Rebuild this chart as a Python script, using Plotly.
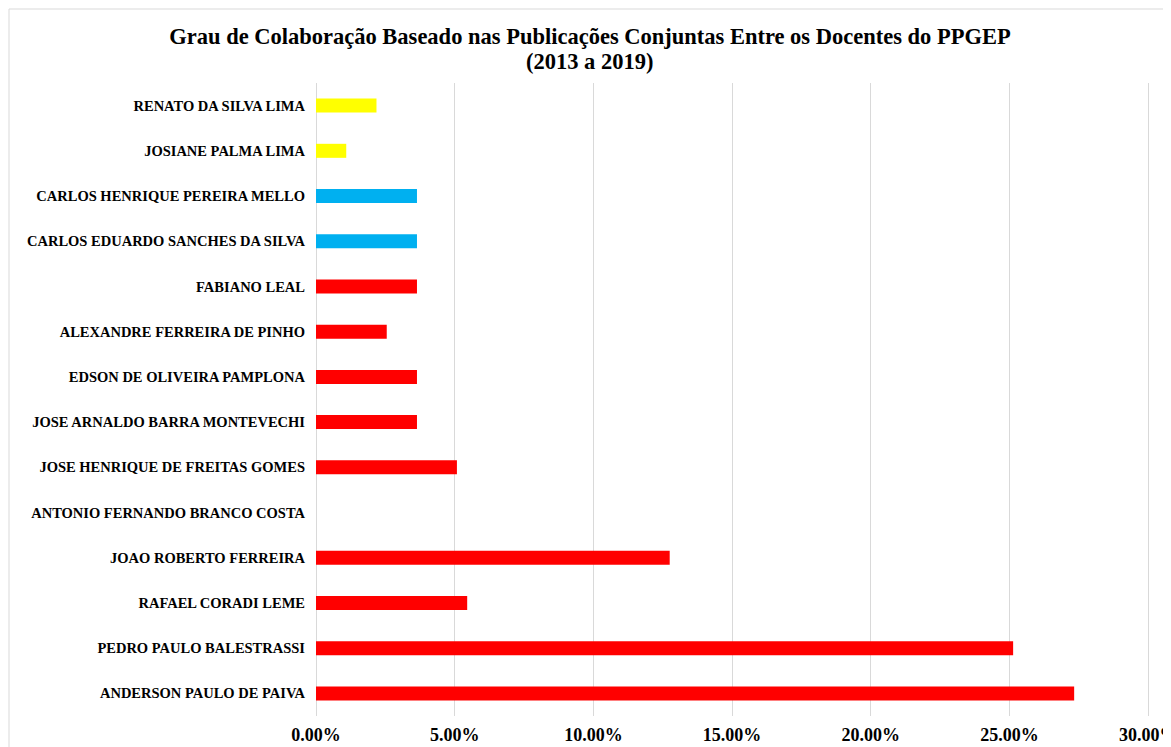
import plotly.graph_objects as go

names = [
    "ANDERSON PAULO DE PAIVA",
    "PEDRO PAULO BALESTRASSI",
    "RAFAEL CORADI LEME",
    "JOAO ROBERTO FERREIRA",
    "ANTONIO FERNANDO BRANCO COSTA",
    "JOSE HENRIQUE DE FREITAS GOMES",
    "JOSE ARNALDO BARRA MONTEVECHI",
    "EDSON DE OLIVEIRA PAMPLONA",
    "ALEXANDRE FERREIRA DE PINHO",
    "FABIANO LEAL",
    "CARLOS EDUARDO SANCHES DA SILVA",
    "CARLOS HENRIQUE PEREIRA MELLO",
    "JOSIANE PALMA LIMA",
    "RENATO DA SILVA LIMA",
]
values = [0.2733, 0.2513, 0.0545, 0.1275, 0.0, 0.0508, 0.0364, 0.0364,
          0.0255, 0.0364, 0.0364, 0.0364, 0.0109, 0.0218]
groups = ["red"] * 10 + ["blue"] * 2 + ["yellow"] * 2
group_colors = {"red": "#FF0000", "blue": "#00B0F0", "yellow": "#FFFF00"}
x_ticks = [0, 0.05, 0.10, 0.15, 0.20, 0.25, 0.30]
title_line1 = "Grau de Colaboração Baseado nas Publicações Conjuntas Entre os Docentes do PPGEP"
title_line2 = "(2013 a 2019)"

fig = go.Figure(
    go.Bar(
        x=values,
        y=names,
        orientation="h",
        marker=dict(color=[group_colors[g] for g in groups], line=dict(width=0)),
        width=0.31,
        hoverinfo="x+y",
    )
)

font_family = "Liberation Serif, Times New Roman, serif"

# page body has an 8px margin; the figure is sized so it fills the window
W, H = 1163, 739
L, R, T, B = 308, 20, 75, 31
pw = W - L - R
ph = H - T - B

fig.update_layout(
    width=W,
    height=H,
    paper_bgcolor="white",
    plot_bgcolor="white",
    margin=dict(l=L, r=R, t=T, b=B, autoexpand=False),
    showlegend=False,
    title=dict(
        text="<b>" + title_line1 + "</b>",
        font=dict(family=font_family, size=22.5, color="black"),
        x=582 / W,
        xanchor="center",
        y=1 - 28 / H,
        yanchor="middle",
    ),
    font=dict(family=font_family, color="black"),
)

fig.add_annotation(
    text="<b>" + title_line2 + "</b>",
    xref="paper", yref="paper",
    x=(582 - L) / pw, y=(H - B - 54) / ph,
    xanchor="center", yanchor="middle",
    showarrow=False,
    font=dict(family=font_family, size=22.5, color="black"),
)

fig.update_xaxes(
    range=[0, 0.301],
    tickvals=x_ticks,
    tickformat=".2%",
    showgrid=True,
    gridcolor="#D9D9D9",
    gridwidth=1,
    zeroline=True,
    zerolinecolor="#D9D9D9",
    zerolinewidth=1,
    showline=False,
    automargin=False,
    ticklabeloverflow="allow",
    tickfont=dict(family=font_family, size=18, color="black", weight="bold"),
    ticklabelstandoff=6,
)

fig.update_yaxes(
    categoryorder="array",
    categoryarray=names,
    range=[-0.5, 13.5],
    showgrid=False,
    zeroline=False,
    showline=False,
    automargin=False,
    tickfont=dict(family=font_family, size=14.5, color="black", weight="bold"),
    ticklabelstandoff=10,
)

fig.add_shape(
    type="rect",
    xref="paper", yref="paper",
    x0=(1 - L) / pw, x1=(1159 - L) / pw,
    y0=(-B - 5) / ph, y1=(H - B - 1) / ph,
    line=dict(color="#D9D9D9", width=1),
    fillcolor="rgba(0,0,0,0)",
    layer="below",
)

fig.write_html("out.html")
